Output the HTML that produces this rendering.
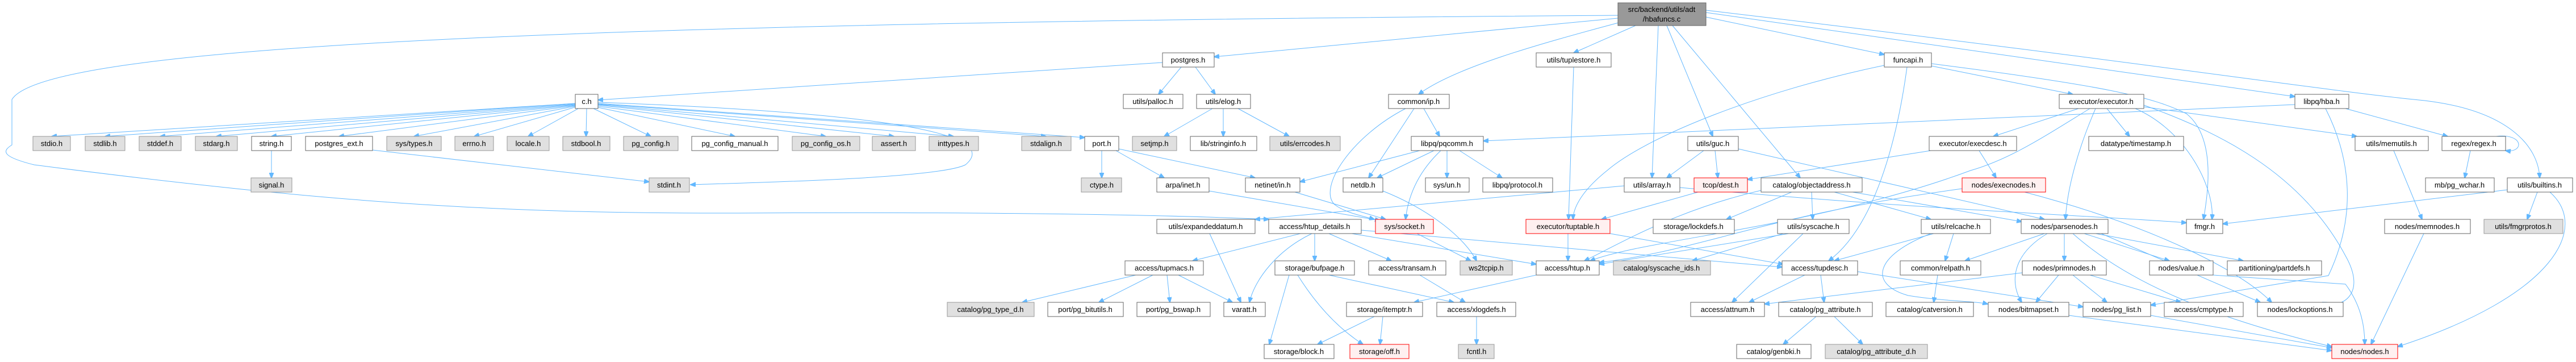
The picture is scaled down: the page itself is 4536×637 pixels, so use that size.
<!DOCTYPE html>
<html><head><meta charset="utf-8"><style>
html,body{margin:0;padding:0;background:#fff;}
svg{display:block;}
text{font-family:"Liberation Sans",sans-serif;font-size:13px;fill:#000;text-anchor:middle;}
.n rect{fill:#fff;stroke:#666;stroke-width:1;}
.g rect{fill:#e0e0e0;stroke:#999;stroke-width:1;}
.r rect{fill:#fff0f0;stroke:#f00;stroke-width:1;}
path{fill:none;stroke:#63b8ff;stroke-width:1;}
</style></head><body>
<svg width="4536" height="637" viewBox="0 0 4536 637" xmlns="http://www.w3.org/2000/svg">
<defs><marker id="a" markerWidth="10" markerHeight="8" refX="9" refY="4" orient="auto" markerUnits="userSpaceOnUse"><path d="M0,0 L10,4 L0,8 z" style="fill:#63b8ff;stroke:#63b8ff"/></marker></defs>
<g marker-end="url(#a)">
<path d="M2880,45 L2771,93"/>
<path d="M2850,40 C2700,80 2560,120 2498,166"/>
<path d="M2920,45 L2909,313"/>
<path d="M2935,45 L3016,240"/>
<path d="M2945,45 L3170,313"/>
<path d="M3004,30 L3318,96"/>
<path d="M3004,22 L4041,170"/>
<path d="M3004,18 C3700,100 4100,160 4250,175 C4420,190 4470,260 4472,313"/>
<path d="M2849,32 L2138,100"/>
<path d="M2849,27 C1000,40 80,80 21,175 L21,255 C5,265 0,275 60,290 C600,360 900,376 1300,375 C1800,372 2100,380 2234,386"/>
<path d="M2047,110 L1053,176"/>
<path d="M2080,118 L2040,166"/>
<path d="M2105,118 L2140,166"/>
<path d="M1013,182 L91,240"/><path d="M1013,182 L185,240"/><path d="M1013,183 L282,240"/><path d="M1013,184 L381,240"/><path d="M1013,185 L478,240"/><path d="M1013,186 L597,240"/><path d="M1013,187 L729,240"/><path d="M1015,188 L835,240"/><path d="M1020,190 L930,240"/><path d="M1033,191 L1032,240"/><path d="M1045,191 L1146,240"/><path d="M1053,189 L1294,240"/><path d="M1053,187 L1454,240"/><path d="M1053,185 L1574,240"/><path d="M1053,184 L1679,240"/><path d="M1053,183 L1842,240"/><path d="M1053,182 L1910,242"/>
<path d="M1053,180 C1600,200 1760,240 1700,290 C1650,315 1300,322 1216,325"/>
<path d="M478,265 L478,313"/>
<path d="M656,264 L1143,320"/>
<path d="M2135,191 L2050,240"/><path d="M2154,191 L2154,240"/><path d="M2180,191 L2270,240"/>
<path d="M1940,265 L1940,313"/><path d="M1965,265 L2050,313"/><path d="M1970,262 L2210,313"/>
<path d="M2129,336 L2430,388"/><path d="M2280,338 L2440,386"/>
<path d="M2475,191 C2380,240 2320,330 2350,360 C2370,375 2400,380 2420,386"/>
<path d="M2490,191 L2410,313"/><path d="M2507,191 L2535,240"/>
<path d="M2500,265 L2289,320"/><path d="M2525,265 L2425,313"/><path d="M2537,265 C2500,300 2480,340 2475,386"/><path d="M2548,265 L2548,313"/><path d="M2570,265 L2645,313"/>
<path d="M2435,336 C2520,370 2580,420 2600,459"/><path d="M2495,411 L2590,459"/>
<path d="M2771,118 L2762,386"/>
<path d="M3000,265 L2935,313"/><path d="M3020,265 L3025,313"/><path d="M3061,262 L3600,386"/>
<path d="M2860,327 L2210,386"/><path d="M2958,330 C3400,370 3700,380 3850,392"/>
<path d="M2990,338 L2820,386"/>
<path d="M2761,411 L2761,459"/><path d="M2835,411 L3140,465"/>
<path d="M2290,411 L2100,459"/><path d="M2310,411 C2250,440 2210,490 2200,532"/><path d="M2315,411 L2315,459"/><path d="M2340,411 L2450,459"/><path d="M2380,411 L2705,465"/><path d="M2397,405 L3138,470"/>
<path d="M2130,411 L2185,532"/>
<path d="M2000,484 L1800,532"/><path d="M2030,484 L1935,532"/><path d="M2055,484 L2060,532"/><path d="M2075,484 L2170,532"/>
<path d="M2270,484 L2235,606"/><path d="M2285,484 C2320,540 2360,580 2400,606"/><path d="M2340,484 L2560,532"/>
<path d="M2500,484 L2580,532"/>
<path d="M2705,484 L2490,532"/>
<path d="M2420,557 L2320,606"/><path d="M2435,557 L2430,606"/>
<path d="M2600,557 L2600,606"/>
<path d="M3190,338 L3192,386"/><path d="M3230,338 L3400,386"/><path d="M3262,338 L3560,390"/><path d="M3155,338 L3040,386"/><path d="M3101,335 C2950,370 2850,430 2790,459"/>
<path d="M3175,411 L3050,532"/><path d="M3150,411 L2816,465"/><path d="M3140,411 L2980,459"/>
<path d="M3405,411 L3230,459"/><path d="M3440,411 L3425,459"/><path d="M3400,411 C3300,450 3290,500 3360,520 C3420,530 3480,530 3500,535"/>
<path d="M3412,484 L3405,532"/>
<path d="M3178,484 L3080,532"/><path d="M3206,484 L3212,532"/><path d="M3271,478 L3668,540"/>
<path d="M3198,557 L3140,606"/><path d="M3230,557 L3280,606"/>
<path d="M3358,118 C3340,250 3300,400 3220,459"/>
<path d="M3318,115 C3100,160 2900,240 2830,300 C2780,340 2770,370 2770,386"/>
<path d="M3401,116 L3650,166"/>
<path d="M3401,112 C3700,150 3790,170 3850,200 C3900,240 3890,330 3880,386"/>
<path d="M3660,191 L3510,240"/><path d="M3710,191 L3750,240"/><path d="M3690,191 C3660,260 3640,330 3637,386"/>
<path d="M3680,191 C3600,240 3540,280 3470,300 C3200,400 2900,420 2800,459"/>
<path d="M3775,188 L4150,240"/><path d="M3760,191 C3850,230 3900,330 3895,386"/>
<path d="M3775,185 C3900,230 4050,300 4130,450 C4170,520 4120,545 4090,532"/>
<path d="M4041,184 L2612,248"/>
<path d="M3400,265 L3077,316"/><path d="M3485,265 L3515,313"/>
<path d="M3455,332 C3100,380 3000,440 2816,462"/>
<path d="M3565,338 C3800,400 3950,480 4000,532"/>
<path d="M3600,411 L3460,459"/><path d="M3635,411 L3635,459"/><path d="M3670,411 L3820,459"/><path d="M3690,411 L3950,459"/><path d="M3605,411 C3540,450 3540,500 3560,532"/><path d="M3650,411 C3750,500 3900,560 4106,610"/><path d="M3700,411 L3980,532"/>
<path d="M3561,480 L3107,535"/><path d="M3625,484 L3585,532"/><path d="M3650,484 L3710,532"/><path d="M3680,484 L3840,532"/>
<path d="M3643,555 L4106,617"/><path d="M3787,555 L4106,612"/><path d="M3897,484 L4130,500 C4160,540 4164,580 4164,606"/>
<path d="M4130,191 L4310,240"/><path d="M4095,191 C4140,280 4150,380 4100,485 L3787,537"/>
<path d="M4395,240 C4445,234 4445,270 4412,265"/>
<path d="M4350,265 L4340,313"/><path d="M4215,265 L4265,386"/><path d="M4268,411 L4175,606"/>
<path d="M4415,334 L3914,394"/><path d="M4468,338 L4450,386"/><path d="M4490,338 C4560,400 4500,520 4222,610"/>
</g>
<rect x="2849" y="5" width="155" height="40" fill="#999" stroke="#666"/>
<text x="2926" y="21">src/backend/utils/adt</text><text x="2926" y="38">/hbafuncs.c</text>
<g class="n"><rect x="2047" y="93" width="91" height="25"/><text x="2092" y="110">postgres.h</text></g>
<g class="n"><rect x="2705" y="93" width="132" height="25"/><text x="2771" y="110">utils/tuplestore.h</text></g>
<g class="n"><rect x="3318" y="93" width="83" height="25"/><text x="3360" y="110">funcapi.h</text></g>
<g class="n"><rect x="1013" y="166" width="40" height="25"/><text x="1033" y="183">c.h</text></g>
<g class="n"><rect x="1978" y="166" width="105" height="25"/><text x="2030" y="183">utils/palloc.h</text></g>
<g class="n"><rect x="2107" y="166" width="95" height="25"/><text x="2154" y="183">utils/elog.h</text></g>
<g class="n"><rect x="2445" y="166" width="107" height="25"/><text x="2498" y="183">common/ip.h</text></g>
<g class="n"><rect x="3626" y="166" width="149" height="25"/><text x="3700" y="183">executor/executor.h</text></g>
<g class="n"><rect x="4041" y="166" width="95" height="25"/><text x="4088" y="183">libpq/hba.h</text></g>
<g class="g"><rect x="58" y="240" width="66" height="25"/><text x="91" y="257">stdio.h</text></g>
<g class="g"><rect x="150" y="240" width="70" height="25"/><text x="185" y="257">stdlib.h</text></g>
<g class="g"><rect x="245" y="240" width="74" height="25"/><text x="282" y="257">stddef.h</text></g>
<g class="g"><rect x="344" y="240" width="74" height="25"/><text x="381" y="257">stdarg.h</text></g>
<g class="n"><rect x="443" y="240" width="70" height="25"/><text x="478" y="257">string.h</text></g>
<g class="n"><rect x="538" y="240" width="118" height="25"/><text x="597" y="257">postgres_ext.h</text></g>
<g class="g"><rect x="681" y="240" width="96" height="25"/><text x="729" y="257">sys/types.h</text></g>
<g class="g"><rect x="801" y="240" width="68" height="25"/><text x="835" y="257">errno.h</text></g>
<g class="g"><rect x="893" y="240" width="74" height="25"/><text x="930" y="257">locale.h</text></g>
<g class="g"><rect x="991" y="240" width="83" height="25"/><text x="1032" y="257">stdbool.h</text></g>
<g class="g"><rect x="1098" y="240" width="96" height="25"/><text x="1146" y="257">pg_config.h</text></g>
<g class="n"><rect x="1218" y="240" width="152" height="25"/><text x="1294" y="257">pg_config_manual.h</text></g>
<g class="g"><rect x="1395" y="240" width="119" height="25"/><text x="1454" y="257">pg_config_os.h</text></g>
<g class="g"><rect x="1536" y="240" width="76" height="25"/><text x="1574" y="257">assert.h</text></g>
<g class="g"><rect x="1636" y="240" width="87" height="25"/><text x="1679" y="257">inttypes.h</text></g>
<g class="g"><rect x="1799" y="240" width="87" height="25"/><text x="1842" y="257">stdalign.h</text></g>
<g class="n"><rect x="1910" y="240" width="60" height="25"/><text x="1940" y="257">port.h</text></g>
<g class="g"><rect x="1994" y="240" width="78" height="25"/><text x="2033" y="257">setjmp.h</text></g>
<g class="n"><rect x="2096" y="240" width="117" height="25"/><text x="2154" y="257">lib/stringinfo.h</text></g>
<g class="g"><rect x="2236" y="240" width="124" height="25"/><text x="2298" y="257">utils/errcodes.h</text></g>
<g class="n"><rect x="2485" y="240" width="127" height="25"/><text x="2548" y="257">libpq/pqcomm.h</text></g>
<g class="n"><rect x="2972" y="240" width="89" height="25"/><text x="3016" y="257">utils/guc.h</text></g>
<g class="n"><rect x="3397" y="240" width="154" height="25"/><text x="3474" y="257">executor/execdesc.h</text></g>
<g class="n"><rect x="3678" y="240" width="167" height="25"/><text x="3761" y="257">datatype/timestamp.h</text></g>
<g class="n"><rect x="4147" y="240" width="129" height="25"/><text x="4211" y="257">utils/memutils.h</text></g>
<g class="n"><rect x="4300" y="240" width="112" height="25"/><text x="4356" y="257">regex/regex.h</text></g>
<g class="g"><rect x="442" y="313" width="72" height="25"/><text x="478" y="330">signal.h</text></g>
<g class="g"><rect x="1143" y="313" width="71" height="25"/><text x="1178" y="330">stdint.h</text></g>
<g class="g"><rect x="1904" y="313" width="71" height="25"/><text x="1940" y="330">ctype.h</text></g>
<g class="n"><rect x="2037" y="313" width="92" height="25"/><text x="2083" y="330">arpa/inet.h</text></g>
<g class="n"><rect x="2193" y="313" width="96" height="25"/><text x="2241" y="330">netinet/in.h</text></g>
<g class="n"><rect x="2365" y="313" width="70" height="25"/><text x="2400" y="330">netdb.h</text></g>
<g class="n"><rect x="2510" y="313" width="77" height="25"/><text x="2548" y="330">sys/un.h</text></g>
<g class="n"><rect x="2611" y="313" width="123" height="25"/><text x="2672" y="330">libpq/protocol.h</text></g>
<g class="n"><rect x="2860" y="313" width="98" height="25"/><text x="2909" y="330">utils/array.h</text></g>
<g class="r"><rect x="2983" y="313" width="94" height="25"/><text x="3030" y="330">tcop/dest.h</text></g>
<g class="n"><rect x="3101" y="313" width="178" height="25"/><text x="3190" y="330">catalog/objectaddress.h</text></g>
<g class="r"><rect x="3455" y="313" width="147" height="25"/><text x="3528" y="330">nodes/execnodes.h</text></g>
<g class="n"><rect x="4271" y="313" width="121" height="25"/><text x="4331" y="330">mb/pg_wchar.h</text></g>
<g class="n"><rect x="4415" y="313" width="115" height="25"/><text x="4472" y="330">utils/builtins.h</text></g>
<g class="n"><rect x="2037" y="386" width="173" height="25"/><text x="2123" y="403">utils/expandeddatum.h</text></g>
<g class="n"><rect x="2234" y="386" width="163" height="25"/><text x="2315" y="403">access/htup_details.h</text></g>
<g class="r"><rect x="2422" y="386" width="102" height="25"/><text x="2473" y="403">sys/socket.h</text></g>
<g class="r"><rect x="2687" y="386" width="148" height="25"/><text x="2761" y="403">executor/tuptable.h</text></g>
<g class="n"><rect x="2911" y="386" width="143" height="25"/><text x="2982" y="403">storage/lockdefs.h</text></g>
<g class="n"><rect x="3130" y="386" width="126" height="25"/><text x="3193" y="403">utils/syscache.h</text></g>
<g class="n"><rect x="3383" y="386" width="122" height="25"/><text x="3444" y="403">utils/relcache.h</text></g>
<g class="n"><rect x="3559" y="386" width="153" height="25"/><text x="3635" y="403">nodes/parsenodes.h</text></g>
<g class="n"><rect x="3850" y="386" width="64" height="25"/><text x="3882" y="403">fmgr.h</text></g>
<g class="n"><rect x="4199" y="386" width="151" height="25"/><text x="4274" y="403">nodes/memnodes.h</text></g>
<g class="g"><rect x="4374" y="386" width="139" height="25"/><text x="4443" y="403">utils/fmgrprotos.h</text></g>
<g class="n"><rect x="1981" y="459" width="138" height="25"/><text x="2050" y="476">access/tupmacs.h</text></g>
<g class="n"><rect x="2245" y="459" width="140" height="25"/><text x="2315" y="476">storage/bufpage.h</text></g>
<g class="n"><rect x="2410" y="459" width="136" height="25"/><text x="2478" y="476">access/transam.h</text></g>
<g class="g"><rect x="2571" y="459" width="92" height="25"/><text x="2617" y="476">ws2tcpip.h</text></g>
<g class="n"><rect x="2705" y="459" width="111" height="25"/><text x="2760" y="476">access/htup.h</text></g>
<g class="g"><rect x="2841" y="459" width="171" height="25"/><text x="2926" y="476">catalog/syscache_ids.h</text></g>
<g class="n"><rect x="3138" y="459" width="133" height="25"/><text x="3204" y="476">access/tupdesc.h</text></g>
<g class="n"><rect x="3346" y="459" width="142" height="25"/><text x="3417" y="476">common/relpath.h</text></g>
<g class="n"><rect x="3561" y="459" width="148" height="25"/><text x="3635" y="476">nodes/primnodes.h</text></g>
<g class="n"><rect x="3785" y="459" width="112" height="25"/><text x="3841" y="476">nodes/value.h</text></g>
<g class="n"><rect x="3922" y="459" width="166" height="25"/><text x="4005" y="476">partitioning/partdefs.h</text></g>
<g class="g"><rect x="1668" y="532" width="153" height="25"/><text x="1744" y="549">catalog/pg_type_d.h</text></g>
<g class="n"><rect x="1845" y="532" width="133" height="25"/><text x="1911" y="549">port/pg_bitutils.h</text></g>
<g class="n"><rect x="2002" y="532" width="129" height="25"/><text x="2066" y="549">port/pg_bswap.h</text></g>
<g class="n"><rect x="2155" y="532" width="73" height="25"/><text x="2191" y="549">varatt.h</text></g>
<g class="n"><rect x="2371" y="532" width="134" height="25"/><text x="2438" y="549">storage/itemptr.h</text></g>
<g class="n"><rect x="2530" y="532" width="139" height="25"/><text x="2600" y="549">access/xlogdefs.h</text></g>
<g class="n"><rect x="2977" y="532" width="130" height="25"/><text x="3042" y="549">access/attnum.h</text></g>
<g class="n"><rect x="3132" y="532" width="165" height="25"/><text x="3214" y="549">catalog/pg_attribute.h</text></g>
<g class="n"><rect x="3321" y="532" width="154" height="25"/><text x="3398" y="549">catalog/catversion.h</text></g>
<g class="n"><rect x="3501" y="532" width="142" height="25"/><text x="3572" y="549">nodes/bitmapset.h</text></g>
<g class="n"><rect x="3668" y="532" width="119" height="25"/><text x="3727" y="549">nodes/pg_list.h</text></g>
<g class="n"><rect x="3811" y="532" width="139" height="25"/><text x="3880" y="549">access/cmptype.h</text></g>
<g class="n"><rect x="3975" y="532" width="151" height="25"/><text x="4050" y="549">nodes/lockoptions.h</text></g>
<g class="n"><rect x="2226" y="606" width="123" height="25"/><text x="2287" y="623">storage/block.h</text></g>
<g class="r"><rect x="2377" y="606" width="104" height="25"/><text x="2429" y="623">storage/off.h</text></g>
<g class="g"><rect x="2568" y="606" width="63" height="25"/><text x="2600" y="623">fcntl.h</text></g>
<g class="n"><rect x="3058" y="606" width="131" height="25"/><text x="3123" y="623">catalog/genbki.h</text></g>
<g class="g"><rect x="3214" y="606" width="180" height="25"/><text x="3304" y="623">catalog/pg_attribute_d.h</text></g>
<g class="r"><rect x="4106" y="606" width="116" height="25"/><text x="4164" y="623">nodes/nodes.h</text></g>
</svg>
</body></html>
